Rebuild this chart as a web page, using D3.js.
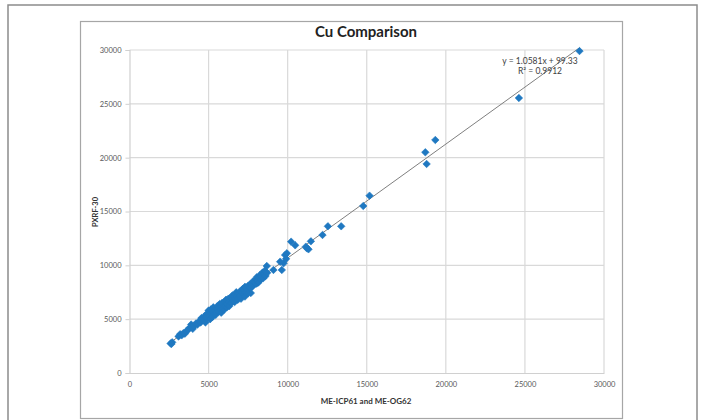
<!DOCTYPE html>
<html><head><meta charset="utf-8">
<script src="https://cdn.jsdelivr.net/npm/d3@7"></script>
<style>body{margin:0;background:#fff;}svg{display:block;font-family:Lato,"Liberation Sans",Arial,sans-serif;}</style>
</head><body><svg id="c" width="707" height="420"></svg>
<script>
const title = "Cu Comparison";
const xTitle = "ME-ICP61 and ME-OG62";
const yTitle = "PXRF-30";
const tickValues = [0,5000,10000,15000,20000,25000,30000];
const slope = 1.0581, intercept = 99.33;
const eqLabel = "y = 1.0581x + 99.33";
const r2Label = "R² = 0.9912";
const icpValues = [2600,2700,2650,3100,3200,3300,3400,3500,3600,3700,3800,3900,3950,4000,4100,4200,4300,4400,4500,4550,4600,4700,4750,4800,4850,4900,4950,5000,5000,5050,5100,5100,5150,5200,5250,5300,5300,5350,5400,5450,5500,5500,5550,5600,5650,5700,5700,5750,5800,5800,5850,5900,5950,6000,6000,6050,6100,6100,6150,6200,6250,6300,6300,6350,6400,6450,6500,6500,6550,6600,6650,6700,6700,6750,6800,6850,6900,6950,7000,7000,7050,7100,7150,7200,7250,7300,7300,7350,7400,7450,7500,7500,7670,7600,7650,7700,7750,7800,7850,7900,8000,8050,8260,8000,8050,8100,8150,8200,8250,8300,8350,8400,8450,8500,8550,8600,8680,8700,9100,9630,9740,9840,9950,9525,9900,10220,10475,11215,11150,11316,11468,12203,12544,13386,14778,15177,18703,19335,18785,24620,28450];
const pxrfValues = [2750,2850,2700,3400,3600,3500,3700,3650,3900,4000,4200,4500,4300,4100,4400,4600,4500,4800,4700,5100,4900,5000,5300,4700,5200,5500,5100,5400,5800,5300,5600,5000,5900,5500,5200,5700,6100,5500,5800,5400,6000,5600,6200,5900,5700,6100,6400,5900,6200,5600,6500,6000,6300,6600,5900,6200,6500,6800,6100,6400,6900,6600,6200,6800,7000,6500,6900,7200,6700,7100,6600,7300,6900,7500,7100,6800,7400,7100,7600,7200,6900,7500,7800,7300,7700,8000,7100,7500,7900,7700,8100,7400,7430,8200,7900,8300,8000,8500,8200,8400,8700,8330,8640,8300,8900,8600,8400,8800,9100,8700,9000,9300,8800,9200,9500,9000,9940,9300,9570,9570,10190,10960,11120,10340,10600,12197,11860,11580,11733,11490,12230,12818,13626,13626,15512,16470,20500,21642,19413,25543,29900];

const svg = d3.select("#c");
svg.append("rect").attr("x",8).attr("y",5).attr("width",689).attr("height",430)
  .attr("fill","none").attr("stroke","#8c8c8c").attr("stroke-width",1.5);
svg.append("rect").attr("x",80.5).attr("y",21.5).attr("width",542).attr("height",397)
  .attr("fill","#fff").attr("stroke","#a6a6a6").attr("stroke-width",1.2);

const x = d3.scaleLinear().domain([0,30000]).range([129.5,604]);
const y = d3.scaleLinear().domain([0,30000]).range([373,50]);

const g = svg.append("g");
g.selectAll(".hg").data(tickValues.slice(1)).join("line")
  .attr("x1",x(0)).attr("x2",x(30000)).attr("y1",d=>y(d)).attr("y2",d=>y(d))
  .attr("stroke","#d9d9d9").attr("stroke-width",1.2);
g.selectAll(".vg").data(tickValues.slice(1)).join("line")
  .attr("y1",y(0)).attr("y2",y(30000)).attr("x1",d=>x(d)).attr("x2",d=>x(d))
  .attr("stroke","#d9d9d9").attr("stroke-width",1.2);

const xAxis = svg.append("g").attr("transform",`translate(0,${y(0)})`)
  .call(d3.axisBottom(x).tickValues(tickValues).tickFormat(d3.format("d")).tickSize(0).tickPadding(9));
const yAxis = svg.append("g").attr("transform",`translate(${x(0)},0)`)
  .call(d3.axisLeft(y).tickValues(tickValues).tickFormat(d3.format("d")).tickSize(4).tickPadding(4));
[xAxis,yAxis].forEach(a=>{
  a.select(".domain").attr("stroke","#d0d0d0").attr("stroke-width",1.2);
  a.selectAll(".tick line").attr("stroke","#d0d0d0");
  a.selectAll("text").attr("fill","#595959").style("font-size","7.5px").style("font-family","Lato,sans-serif");
});

const xmin = d3.min(icpValues), xmax = d3.max(icpValues);
svg.append("line").attr("x1",x(xmin)).attr("y1",y(slope*xmin+intercept))
  .attr("x2",x(xmax)).attr("y2",y(slope*xmax+intercept))
  .attr("stroke","#7f7f7f").attr("stroke-width",1);

const pts = icpValues.map((v,i)=>({x:v,y:pxrfValues[i]}));
svg.append("g").selectAll("path").data(pts).join("path")
  .attr("d",d3.symbol(d3.symbolDiamond2,36)())
  .attr("transform",d=>`translate(${x(d.x)},${y(d.y)})`)
  .attr("fill","#1f78c1").attr("stroke","#1f78c1").attr("stroke-width",0.6);

svg.append("text").attr("x",366).attr("y",37).attr("text-anchor","middle")
  .style("font-size","15px").style("font-weight","bold").attr("fill","#222").text(title);
svg.append("text").attr("x",366).attr("y",404).attr("text-anchor","middle")
  .style("font-size","8px").style("font-weight","bold").attr("fill","#333").text(xTitle);
svg.append("text").attr("transform","translate(98,212) rotate(-90)").attr("text-anchor","middle")
  .style("font-size","7.5px").style("font-weight","bold").attr("fill","#333").text(yTitle);
svg.append("text").attr("x",540).attr("y",64).attr("text-anchor","middle")
  .style("font-size","8.5px").attr("fill","#404040").text(eqLabel);
svg.append("text").attr("x",540).attr("y",74).attr("text-anchor","middle")
  .style("font-size","8.5px").attr("fill","#404040").text(r2Label);
</script></body></html>
